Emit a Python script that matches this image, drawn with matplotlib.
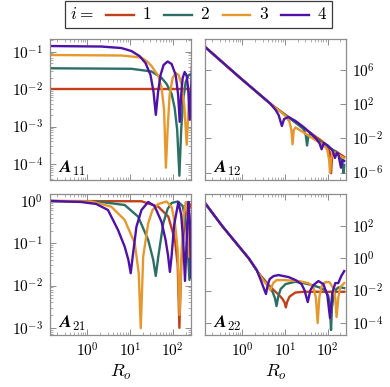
import numpy as np
import matplotlib
matplotlib.use("Agg")
import matplotlib.pyplot as plt
from matplotlib.lines import Line2D
from matplotlib.offsetbox import HPacker, TextArea, DrawingArea, AnchoredOffsetbox
from matplotlib.ticker import FixedLocator, NullLocator, LogLocator, FuncFormatter

plt.rcParams['mathtext.fontset'] = 'cm'
plt.rcParams['font.family'] = ['DejaVu Serif']

# ---------------- data (log10 values) ----------------
series_labels = ['1', '2', '3', '4']
colors = ['#c4401a', '#2b6f66', '#e6982c', '#4f12a8']

# A11
a11_lx_1 = [-0.9, 2.5]
a11_ly_1 = [-2.01, -2.01]
a11_lx_2 = [-0.847, 1.035, 1.506, 1.741, 1.859, 1.976, 2.047, 2.106, 2.158, 2.200, 2.247, 2.306, 2.376, 2.471]
a11_ly_2 = [-1.443, -1.456, -1.528, -1.701, -1.861, -2.128, -2.501, -3.088, -4.315, -3.088, -2.288, -1.808, -1.621, -1.595]
a11_lx_3 = [-0.847, 0.800, 1.153, 1.271, 1.388, 1.506, 1.664, 1.741, 1.800, 1.842, 1.882, 1.929, 2.000, 2.071,
            2.141, 2.212, 2.271, 2.329, 2.376, 2.424, 2.471]
a11_ly_3 = [-1.088, -1.101, -1.141, -1.160, -1.248, -1.381, -1.648, -1.968, -2.555, -4.101, -3.088, -2.155, -1.701,
            -1.568, -1.621, -1.888, -2.421, -3.488, -2.421, -1.968, -1.808]
a11_lx_4 = [-0.847, 0.329, 0.800, 1.035, 1.224, 1.365, 1.482, 1.553, 1.607, 1.659, 1.718, 1.788, 1.882, 1.976,
            2.071, 2.129, 2.165, 2.200, 2.235, 2.282, 2.329, 2.365, 2.400, 2.435, 2.471]
a11_ly_4 = [-0.848, -0.861, -0.901, -0.981, -1.115, -1.301, -1.621, -2.075, -2.688, -2.075, -1.621, -1.355,
            -1.261, -1.328, -1.621, -2.155, -2.875, -2.155, -1.701, -1.541, -1.648, -2.021, -2.821, -1.888, -0.821]

# A12
a12_lx_1 = [-0.891, -0.077, 0.698, 1.086, 1.474, 1.860, 1.993, 2.051, 2.079, 2.109, 2.179, 2.388]
a12_ly_1 = [8.807, 5.216, 1.906, 0.468, -0.901, -2.304, -2.830, -3.591, -6.082, -3.942, -3.474, -4.175]
a12_lx_2 = [-0.891, -0.077, 0.698, 1.086, 1.319, 1.435, 1.488, 1.519, 1.551, 1.598, 1.691, 1.784, 2.016, 2.202,
            2.295, 2.342, 2.372, 2.388]
a12_ly_2 = [8.807, 5.216, 1.906, 0.468, -0.433, -0.901, -1.602, -2.830, -1.719, -1.427, -1.836, -2.246, -3.006,
            -3.591, -4.058, -4.760, -6.012, -5.111]
a12_lx_3 = [-0.891, -0.077, 0.698, 0.923, 1.040, 1.109, 1.151, 1.179, 1.209, 1.249, 1.319, 1.551, 1.784, 1.923,
            1.993, 2.035, 2.056, 2.077, 2.121, 2.202, 2.295, 2.388]
a12_ly_3 = [8.807, 5.216, 1.906, 1.029, 0.503, -0.082, -1.018, -2.690, -1.018, -0.725, -0.936, -1.661, -2.421,
            -2.830, -3.357, -4.526, -6.012, -4.526, -3.591, -3.708, -4.058, -4.292]
a12_lx_4 = [-0.891, -0.077, 0.505, 0.667, 0.784, 0.853, 0.930, 0.981, 1.086, 1.249, 1.435, 1.621, 1.737, 1.807,
            1.860, 1.912, 2.016, 2.109, 2.172, 2.214, 2.249, 2.312, 2.353, 2.388]
a12_ly_4 = [8.807, 5.216, 2.725, 2.023, 1.322, 0.737, -0.550, 0.269, 0.503, 0.035, -0.667, -1.485, -2.070, -2.538,
            -3.275, -2.538, -2.889, -3.357, -4.292, -3.708, -3.825, -5.427, -4.526, -4.643]

# A21
a21_lx_1 = [-0.847, 1.271, 1.664, 1.899, 2.054, 2.118, 2.158, 2.200, 2.289, 2.369, 2.471]
a21_ly_1 = [0.0, -0.007, -0.135, -0.371, -0.922, -1.513, -3.002, -1.513, -0.371, -0.024, -0.213]
a21_lx_2 = [-0.847, 0.329, 0.878, 1.193, 1.428, 1.546, 1.605, 1.664, 1.781, 1.882, 1.976, 2.118, 2.235, 2.318,
            2.393, 2.447, 2.471]
a21_ly_2 = [0.0, -0.024, -0.095, -0.371, -0.922, -1.395, -1.773, -1.317, -0.527, -0.189, -0.047, -0.012, -0.118,
            -0.567, -1.868, -0.804, -0.496]
a21_lx_3 = [-0.847, 0.094, 0.565, 0.878, 1.113, 1.207, 1.254, 1.311, 1.428, 1.529, 1.664, 1.859, 1.976, 2.054,
            2.118, 2.162, 2.212, 2.259, 2.306, 2.353, 2.388, 2.424, 2.471]
a21_ly_3 = [0.0, -0.012, -0.135, -0.449, -1.000, -1.709, -3.009, -1.317, -0.527, -0.213, -0.071, -0.012, -0.142,
            -0.527, -1.158, -2.695, -1.158, -0.331, -0.024, -0.331, -1.324, -0.567, -0.095]
a21_lx_4 = [-0.847, -0.141, 0.212, 0.487, 0.722, 0.878, 0.965, 1.019, 1.075, 1.153, 1.271, 1.428, 1.576, 1.741,
            1.835, 1.894, 1.936, 1.976, 2.035, 2.134, 2.200, 2.247, 2.289, 2.329, 2.369, 2.400, 2.431, 2.459, 2.471]
a21_ly_4 = [0.0, -0.024, -0.071, -0.213, -0.686, -1.080, -1.395, -1.709, -1.236, -0.608, -0.213, -0.024, -0.118,
            -0.496, -0.922, -1.300, -1.678, -1.300, -0.567, -0.024, -0.331, -0.922, -1.891, -0.922, -0.024,
            -0.449, -1.820, -0.686, -0.331]

# A22
a22_lx_1 = [-0.891, -0.465, 0.156, 0.388, 0.505, 0.621, 0.737, 0.853, 0.947, 0.998, 1.023, 1.051, 1.109, 1.242,
            1.435, 2.388]
a22_ly_1 = [3.516, 2.006, 0.0, -0.932, -1.286, -1.658, -1.969, -2.248, -2.528, -2.776, -3.043, -2.714, -2.373,
            -2.124, -2.075, -2.075]
a22_lx_2 = [-0.891, -0.465, 0.156, 0.388, 0.505, 0.621, 0.714, 0.767, 0.805, 0.842, 0.900, 1.016, 1.242, 1.435,
            1.628, 1.784, 1.940, 2.016, 2.056, 2.079, 2.102, 2.144, 2.202, 2.272, 2.388]
a22_ly_2 = [3.516, 2.006, 0.0, -0.932, -1.348, -1.720, -2.093, -2.466, -2.963, -2.404, -1.907, -1.596, -1.453,
            -1.534, -1.658, -1.783, -1.969, -2.342, -3.025, -4.453, -3.025, -2.280, -1.907, -1.783, -1.845]
a22_lx_3 = [-0.891, -0.465, 0.156, 0.388, 0.505, 0.586, 0.660, 0.726, 0.807, 0.970, 1.319, 1.551, 1.667, 1.726,
            1.767, 1.807, 1.860, 1.947, 2.040, 2.133, 2.179, 2.209, 2.249, 2.295, 2.388]
a22_ly_3 = [3.516, 2.006, 0.0, -0.932, -1.410, -1.658, -1.969, -1.534, -1.348, -1.348, -1.410, -1.534, -1.783,
            -2.466, -4.019, -2.404, -1.720, -1.472, -1.472, -1.845, -2.466, -3.646, -2.466, -1.783, -1.534]
a22_lx_4 = [-0.891, -0.465, 0.156, 0.342, 0.435, 0.505, 0.558, 0.598, 0.644, 0.737, 0.853, 1.086, 1.249, 1.388,
            1.458, 1.535, 1.598, 1.667, 1.784, 1.900, 1.993, 2.056, 2.109, 2.179, 2.249, 2.319, 2.388]
a22_ly_4 = [3.516, 2.006, 0.0, -0.727, -1.348, -1.845, -2.217, -1.658, -1.286, -1.099, -1.037, -1.161, -1.348,
            -1.596, -1.969, -2.714, -1.969, -1.658, -1.410, -1.596, -2.280, -3.708, -2.155, -1.534, -1.534,
            -1.099, -0.789]

panels = {
    '11': ([a11_lx_1, a11_lx_2, a11_lx_3, a11_lx_4], [a11_ly_1, a11_ly_2, a11_ly_3, a11_ly_4]),
    '12': ([a12_lx_1, a12_lx_2, a12_lx_3, a12_lx_4], [a12_ly_1, a12_ly_2, a12_ly_3, a12_ly_4]),
    '21': ([a21_lx_1, a21_lx_2, a21_lx_3, a21_lx_4], [a21_ly_1, a21_ly_2, a21_ly_3, a21_ly_4]),
    '22': ([a22_lx_1, a22_lx_2, a22_lx_3, a22_lx_4], [a22_ly_1, a22_ly_2, a22_ly_3, a22_ly_4]),
}

xlim_log = (-0.869, 2.429)
ylims_log = {'11': (-4.43, -0.66), '12': (-6.87, 9.63), '21': (-3.17, 0.165), '22': (-4.76, 4.0)}
yticks_exp = {'11': [-4, -3, -2, -1], '12': [-6, -2, 2, 6], '21': [-3, -2, -1, 0], '22': [-4, -2, 0, 2]}
xticks_exp = [0, 1, 2]

# ---------------- figure ----------------
fig = plt.figure(figsize=(3.9, 3.87), dpi=100)
W, H = 0.3615, 0.3643
pos = {'11': (0.1282, 0.5349), '12': (0.5256, 0.5349), '21': (0.1282, 0.1344), '22': (0.5256, 0.1344)}
grey = '#8c8c8c'
fmt = FuncFormatter(lambda v, p: r'$10^{%d}$' % int(round(np.log10(v))))

for key, (xs, ys) in panels.items():
    ax = fig.add_axes([pos[key][0], pos[key][1], W, H])
    for lx, ly, c in zip(xs, ys, colors):
        ax.plot(10 ** np.array(lx), 10 ** np.array(ly), color=c, lw=1.7, solid_joinstyle='round')
    ax.set_xscale('log')
    ax.set_yscale('log')
    ax.set_xlim(10 ** xlim_log[0], 10 ** xlim_log[1])
    ax.set_ylim(10 ** ylims_log[key][0], 10 ** ylims_log[key][1])
    ax.xaxis.set_major_locator(FixedLocator([10.0 ** e for e in xticks_exp]))
    ax.xaxis.set_minor_locator(LogLocator(base=10, subs=np.arange(2, 10), numticks=20))
    ax.yaxis.set_major_locator(FixedLocator([10.0 ** e for e in yticks_exp[key]]))
    if key in ('11', '21'):
        ax.yaxis.set_minor_locator(LogLocator(base=10, subs=np.arange(2, 10), numticks=20))
    else:
        ax.yaxis.set_minor_locator(NullLocator())
    ax.xaxis.set_major_formatter(fmt)
    ax.yaxis.set_major_formatter(fmt)
    for s in ax.spines.values():
        s.set_color(grey)
        s.set_linewidth(0.9)
    ax.tick_params(which='both', direction='in', top=True, bottom=True, left=True, right=True,
                   color=grey, labelsize=11)
    ax.tick_params(which='major', length=4, width=0.7)
    ax.tick_params(which='minor', length=2, width=0.5)
    if key in ('12', '22'):
        ax.tick_params(axis='y', labelleft=False, labelright=True, pad=4)
    else:
        ax.tick_params(axis='y', pad=5)
    if key in ('11', '12'):
        ax.tick_params(axis='x', labelbottom=False)
    else:
        ax.tick_params(axis='x', pad=5)
        ax.set_xlabel(r'$R_o$', fontsize=13, labelpad=2)
    ax.text(0.055, 0.05, r'$\boldsymbol{A}_{%s}$' % key, transform=ax.transAxes,
            fontsize=13, ha='left', va='baseline')

# legend box
items = [TextArea(r'$i=$', textprops=dict(fontsize=12.5))]
for lab, c in zip(series_labels, colors):
    da = DrawingArea(20, 8, 0, 0)
    da.add_artist(Line2D([0, 20], [4, 4], color=c, lw=1.7))
    items.append(HPacker(children=[da, TextArea('$%s$' % lab, textprops=dict(fontsize=12.5))],
                         align='center', pad=0, sep=6))
pack = HPacker(children=items, align='center', pad=0, sep=9)
box = AnchoredOffsetbox(loc='center', child=pack, pad=0.35, borderpad=0, frameon=True,
                        bbox_to_anchor=(0.51, 0.9625), bbox_transform=fig.transFigure)
box.patch.set_edgecolor('#3a3a3a')
box.patch.set_linewidth(0.9)
box.patch.set_boxstyle('square', pad=0)
fig.add_artist(box)

fig.savefig('out.png', dpi=100)
